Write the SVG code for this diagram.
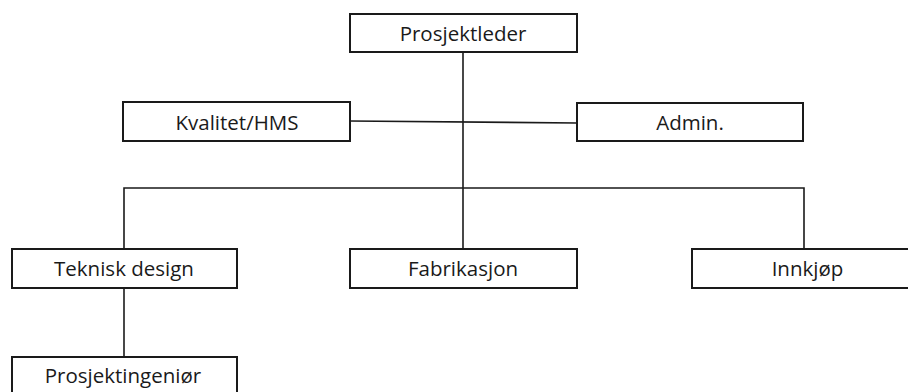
<svg xmlns="http://www.w3.org/2000/svg" width="908" height="392" viewBox="0 0 908 392">
  <style>
    .box { fill: #ffffff; stroke: #1a1a1a; stroke-width: 2; }
    .lbl { font-family: "Open Sans", "Liberation Sans", Arial, sans-serif; font-size: 20.5px; fill: #1a1a1a; text-anchor: middle; }
    .wire { fill: none; stroke: #1a1a1a; stroke-width: 1.6; }
  </style>
  <rect width="908" height="392" fill="#ffffff"/>

  <!-- connectors -->
  <g id="connectors">
    <line class="wire" x1="463" y1="52" x2="463" y2="249"/>
    <line class="wire" x1="350" y1="121" x2="577" y2="123"/>
    <polyline class="wire" points="124,249 124,188 804,188 804,249"/>
    <line class="wire" x1="124" y1="288" x2="124" y2="357"/>
  </g>

  <g id="prosjektleder">
    <rect class="box" x="350" y="14" width="227" height="38"/>
    <text class="lbl" x="463" y="40.5">Prosjektleder</text>
  </g>

  <g id="kvalitet-hms">
    <rect class="box" x="123" y="102" width="227" height="39"/>
    <text class="lbl" x="237" y="129.5">Kvalitet/HMS</text>
  </g>

  <g id="admin">
    <rect class="box" x="577" y="103" width="226" height="38"/>
    <text class="lbl" x="690" y="130">Admin.</text>
  </g>

  <g id="teknisk-design">
    <rect class="box" x="12" y="249" width="225" height="39"/>
    <text class="lbl" x="124" y="275.5">Teknisk design</text>
  </g>

  <g id="fabrikasjon">
    <rect class="box" x="350" y="249" width="227" height="39"/>
    <text class="lbl" x="463" y="275.5">Fabrikasjon</text>
  </g>

  <g id="innkjop">
    <rect class="box" x="692" y="249" width="231" height="39"/>
    <text class="lbl" x="807.5" y="275.5">Innkjøp</text>
  </g>

  <g id="prosjektingenior">
    <rect class="box" x="12" y="357" width="225" height="39"/>
    <text class="lbl" x="123" y="383">Prosjektingeniør</text>
  </g>
</svg>
